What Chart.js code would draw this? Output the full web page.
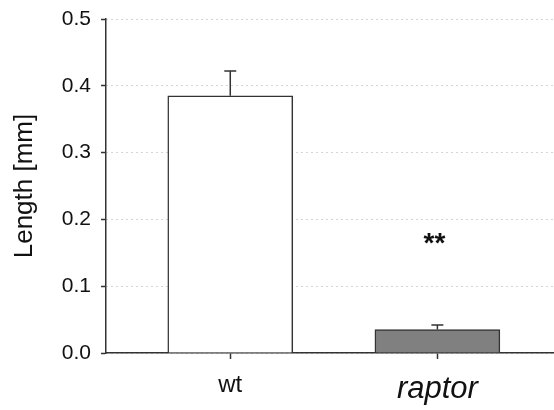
<!DOCTYPE html>
<html lang="en">
<head>
  <meta charset="UTF-8">
  <title>Length wt vs raptor</title>
  <style>
    html, body { margin: 0; padding: 0; background: #fff; }
    .chart-container { width: 554px; height: 410px; }
  </style>
  <script src="https://cdn.jsdelivr.net/npm/chart.js"></script>
</head>
<body>
  <div class="chart-container">
    <canvas id="lengthChart"></canvas>
  </div>

  <script>
    // data
    const categories = ['wt', 'raptor'];
    const lengths = [0.385, 0.035];      // mm
    const errors = [0.037, 0.007];       // upper error bar only
    const barColors = ['#ffffff', '#808080'];
    const yTicks = [0.0, 0.1, 0.2, 0.3, 0.4, 0.5];
    const significance = { index: 1, label: '**', y: 0.17 };

    const FONT = '"Liberation Sans", Arial, sans-serif';

    // upward error bars + significance stars, drawn through the chart scales
    const errorBarPlugin = {
      id: 'errorBars',
      afterDatasetsDraw(chart) {
        const ctx = chart.ctx;
        const xs = chart.scales.x, ys = chart.scales.y;
        ctx.save();
        ctx.strokeStyle = '#333';
        ctx.lineWidth = 1.5;
        lengths.forEach((v, i) => {
          const x = xs.getPixelForValue(i + 1);
          const y0 = ys.getPixelForValue(v);
          const y1 = ys.getPixelForValue(v + errors[i]);
          ctx.beginPath();
          ctx.moveTo(x, y0);
          ctx.lineTo(x, y1);
          ctx.moveTo(x - 6, y1);
          ctx.lineTo(x + 6, y1);
          ctx.stroke();
        });
        ctx.fillStyle = '#111';
        ctx.font = 'bold 28px ' + FONT;
        ctx.textAlign = 'center';
        ctx.textBaseline = 'middle';
        ctx.fillText(significance.label,
          xs.getPixelForValue(significance.index + 1) - 3,
          ys.getPixelForValue(significance.y) + 5);
        ctx.restore();
      }
    };

    const ctxLength = document.getElementById('lengthChart').getContext('2d');

    const lengthChart = new Chart(ctxLength, {
      type: 'bar',
      data: {
        datasets: [{
          data: lengths.map((v, i) => ({ x: i + 1, y: v })),
          backgroundColor: barColors,
          borderColor: '#333',
          borderWidth: 1.5,
          borderSkipped: 'bottom',
          barThickness: 125
        }]
      },
      options: {
        responsive: true,
        maintainAspectRatio: false,
        animation: false,
        layout: { padding: { top: 19, right: 0, left: 0, bottom: 0 } },
        plugins: {
          legend: { display: false },
          tooltip: { enabled: false }
        },
        scales: {
          x: {
            type: 'linear',
            min: 0.4,
            max: 2.563,
            offset: false,
            afterBuildTicks: (scale) => {
              scale.ticks = categories.map((c, i) => ({ value: i + 1 }));
            },
            afterFit: (scale) => { scale.height = 57; },
            grid: {
              offset: false,
              drawOnChartArea: false,
              drawTicks: true,
              tickLength: 6,
              tickColor: '#333',
              tickWidth: 1.5
            },
            border: { display: true, color: '#333', width: 1.5 },
            ticks: {
              autoSkip: false,
              maxRotation: 0,
              padding: 12,
              color: '#111',
              callback: (v) => categories[v - 1],
              font: (c) => c.index === 1
                ? { family: FONT, size: 31, style: 'italic' }
                : { family: FONT, size: 24 }
            }
          },
          y: {
            min: 0,
            max: 0.5,
            afterBuildTicks: (scale) => {
              scale.ticks = yTicks.map(v => ({ value: v }));
            },
            afterFit: (scale) => {
              scale.width = 106;
              scale.paddingTop = 0;
              scale.paddingBottom = 0;
            },
            grid: {
              color: '#aaa',
              lineWidth: 1,
              drawTicks: true,
              tickLength: 5,
              tickColor: '#333',
              tickWidth: 1.5
            },
            border: { display: true, color: '#333', width: 1.5, dash: [1, 4] },
            ticks: {
              padding: 10,
              color: '#111',
              font: { family: FONT, size: 21 },
              callback: (v) => v.toFixed(1)
            },
            title: {
              display: true,
              text: 'Length [mm]',
              color: '#111',
              font: { family: FONT, size: 26 },
              padding: { top: 9, bottom: 0 }
            }
          }
        }
      },
      plugins: [errorBarPlugin]
    });
  </script>
</body>
</html>
